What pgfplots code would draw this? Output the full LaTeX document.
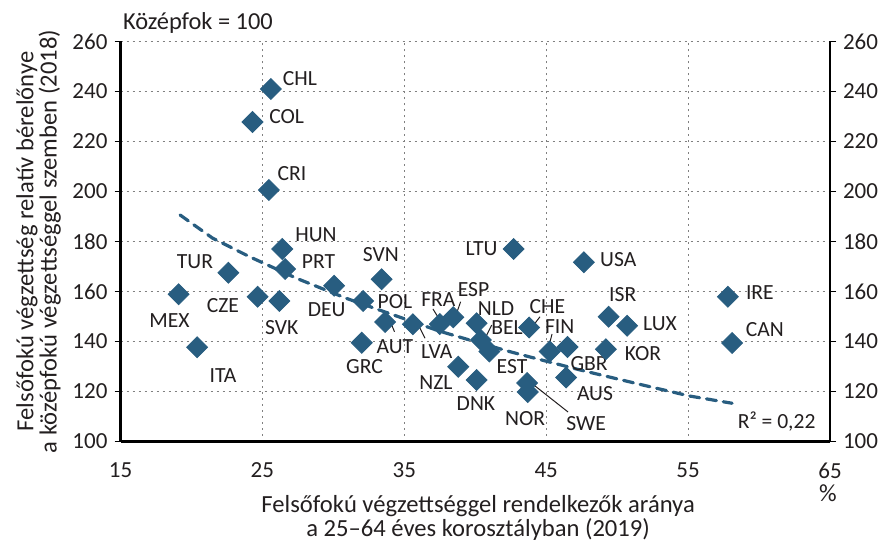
\documentclass[border=0pt]{standalone}
\usepackage{pgfplots}
\pgfplotsset{compat=1.18}
\usepackage{fontspec}
\setmainfont{Carlito}
\definecolor{dia}{RGB}{40,93,128}
\definecolor{txt}{RGB}{35,31,32}
\tikzset{lbl/.style={font=\fontsize{10.8}{12}\selectfont, text=txt, inner sep=0pt}}
\begin{document}
\begin{tikzpicture}
\begin{axis}[
  width=354.75pt, height=200pt, scale only axis,
  xmin=15, xmax=65, ymin=100, ymax=260,
  xtick={15,25,...,65}, ytick={100,120,...,260},
  axis x line*=bottom, axis y line*=left,
  axis line style={line width=1.2pt, black},
  grid=major,
  major grid style={gray, line width=0.5pt, dash pattern=on 1pt off 2pt},
  tick align=outside, major tick length=3pt,
  xtick style={draw=none},
  ytick style={line width=0.9pt, black},
  ticklabel style={font=\fontsize{11.5}{13}\selectfont, text=txt},
  xticklabel style={yshift=-4pt},
  /pgf/number format/assume math mode=true,
  clip=false,
]
\addplot[only marks, mark=square*, mark size=3.7pt, mark options={rotate=45, fill=dia, draw=dia}] table {
x y
25.6 241
24.3 227.8
25.46 200.6
26.4 177
26.6 169
22.6 167.5
19.1 158.9
24.66 157.9
26.2 156.2
20.4 137.7
30.06 162.3
32.1 156.2
33.4 164.9
33.65 147.8
32.0 139.5
42.7 177
47.66 171.7
35.6 146.9
37.5 147
38.45 149.7
40.1 147.3
40.4 140.6
41.0 136
43.8 145.6
45.25 136
46.5 137.8
46.4 125.6
49.2 136.9
49.4 149.9
50.7 146.3
57.8 157.9
58.1 139.4
38.8 129.9
40.1 124.6
43.65 123.4
43.7 119.8
};
\addplot[dia, line width=1.6pt, dash pattern=on 5pt off 3.5pt, line cap=round] coordinates {
(19.2,190.6) (21.5,181.3) (24.1,173.9) (27.4,165.3) (30.9,157.3) (34.9,149.3)
(37.5,144.1) (39.6,140.6) (42.4,136.0) (43.8,133.9) (47.4,128.6) (51.8,122.6)
(55.1,118.2) (58.1,115.3)
};
% leader lines
\draw[txt, line width=0.5pt] (axis cs:37.02,153) -- (axis cs:37.59,147.8);
\draw[txt, line width=0.5pt] (axis cs:38.97,155.9) -- (axis cs:38.64,150.6);
\draw[txt, line width=0.5pt] (axis cs:41.16,146.6) -- (axis cs:40.69,141.3);
\draw[txt, line width=0.5pt] (axis cs:44.56,149.9) -- (axis cs:44.21,147.3);
\draw[txt, line width=0.5pt] (axis cs:45.41,143) -- (axis cs:45.16,137.4);
\draw[txt, line width=0.5pt] (axis cs:33.92,149.2) -- (axis cs:34.31,143.9);
\draw[txt, line width=0.5pt] (axis cs:35.99,146.6) -- (axis cs:36.46,141.3);
\draw[txt, line width=0.5pt] (axis cs:43.86,123.8) -- (axis cs:46.54,111.8);
% labels
\node[lbl] at (axis cs:27.65,245) {CHL};
\node[lbl] at (axis cs:26.71,229.9) {COL};
\node[lbl] at (axis cs:27.09,207) {CRI};
\node[lbl] at (axis cs:28.78,182.6) {HUN};
\node[lbl] at (axis cs:28.95,171.9) {PRT};
\node[lbl] at (axis cs:20.25,171.9) {TUR};
\node[lbl] at (axis cs:18.45,148.3) {MEX};
\node[lbl] at (axis cs:22.22,154.2) {CZE};
\node[lbl] at (axis cs:26.36,145.7) {SVK};
\node[lbl] at (axis cs:22.22,126.2) {ITA};
\node[lbl] at (axis cs:29.53,152.9) {DEU};
\node[lbl] at (axis cs:33.34,174.6) {SVN};
\node[lbl] at (axis cs:34.34,155.9) {POL};
\node[lbl] at (axis cs:32.2,129.9) {GRC};
\node[lbl] at (axis cs:34.34,137.9) {AUT};
\node[lbl] at (axis cs:40.45,177.3) {LTU};
\node[lbl] at (axis cs:50.08,172.6) {USA};
\node[lbl] at (axis cs:37.4,156.6) {FRA};
\node[lbl] at (axis cs:39.88,160.6) {ESP};
\node[lbl] at (axis cs:41.46,153.3) {NLD};
\node[lbl] at (axis cs:42.24,145.5) {BEL};
\node[lbl] at (axis cs:45.09,153.9) {CHE};
\node[lbl] at (axis cs:45.95,145.9) {FIN};
\node[lbl] at (axis cs:37.28,135.9) {LVA};
\node[lbl] at (axis cs:42.59,129.9) {EST};
\node[lbl] at (axis cs:37.23,123.5) {NZL};
\node[lbl] at (axis cs:40.05,115.3) {DNK};
\node[lbl] at (axis cs:43.51,109.3) {NOR};
\node[lbl] at (axis cs:47.81,107.3) {SWE};
\node[lbl] at (axis cs:48.02,131.3) {GBR};
\node[lbl] at (axis cs:48.44,119.3) {AUS};
\node[lbl] at (axis cs:50.39,158.6) {ISR};
\node[lbl] at (axis cs:53.02,147.3) {LUX};
\node[lbl] at (axis cs:51.82,135) {KOR};
\node[lbl] at (axis cs:60.06,159.5) {IRE};
\node[lbl] at (axis cs:60.4,144.6) {CAN};
\node[lbl] at (axis cs:61.24,107.9) {R² = 0,22};
% titles
\node[anchor=west, font=\fontsize{12.2}{14}\selectfont, text=txt, inner sep=0pt] at (rel axis cs:0.003,1.047) {Középfok = 100};
\node[font=\fontsize{12.3}{12.2}\selectfont, text=txt, align=center, inner sep=0pt] at (rel axis cs:0.504,-0.191) {Felsőfokú végzettséggel rendelkezők aránya\\a 25–64 éves korosztályban (2019)};
\node[font=\fontsize{12.3}{12.2}\selectfont, text=txt, inner sep=0pt] at (rel axis cs:0.997,-0.13) {\%};
\node[font=\fontsize{12.3}{11.6}\selectfont, text=txt, align=center, rotate=90, inner sep=0pt] at (rel axis cs:-0.1156,0.5) {Felsőfokú végzettség relatív bérelőnye\\a középfokú végzettséggel szemben (2018)};
\coordinate (bbsw) at (rel axis cs:-0.16984,-0.24875);
\coordinate (bbne) at (rel axis cs:1.07611,1.10375);
\end{axis}
\begin{axis}[
  width=354.75pt, height=200pt, scale only axis,
  xmin=15, xmax=65, ymin=100, ymax=260,
  ytick={100,120,...,260},
  axis x line=none, axis y line*=right,
  axis line style={line width=1.2pt, black},
  tick align=outside, major tick length=3pt,
  ytick style={line width=0.9pt, black},
  ticklabel style={font=\fontsize{11.5}{13}\selectfont, text=txt},
  /pgf/number format/assume math mode=true,
]
\addplot[draw=none] coordinates {(15,100)};
\end{axis}
\pgfresetboundingbox
\path (bbsw) rectangle (bbne);
\end{tikzpicture}
\end{document}
